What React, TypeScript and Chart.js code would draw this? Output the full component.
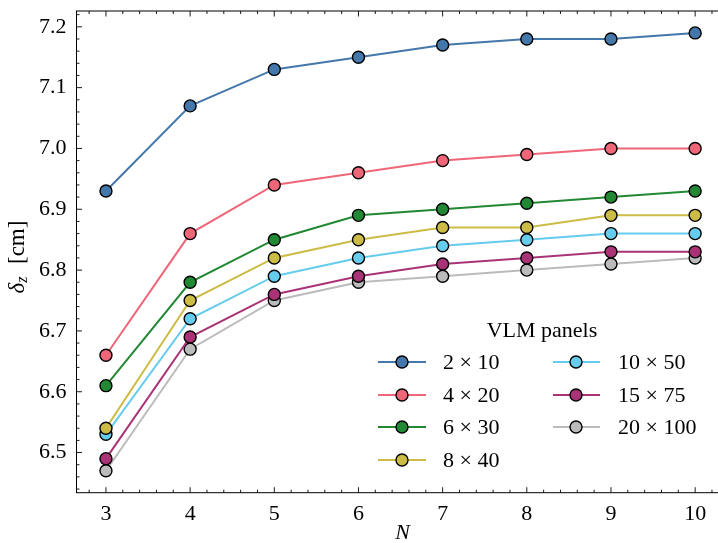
import React, { useEffect, useRef } from "react";
import { Chart, registerables } from "chart.js";

Chart.register(...registerables);

const nValues = [3, 4, 5, 6, 7, 8, 9, 10];
const xTicks = [3, 4, 5, 6, 7, 8, 9, 10];
const yTicks = [6.5, 6.6, 6.7, 6.8, 6.9, 7.0, 7.1, 7.2];

const seriesLabels = ["2 × 10", "4 × 20", "6 × 30", "8 × 40", "10 × 50", "15 × 75", "20 × 100"];
const s2x10 = [6.93, 7.07, 7.13, 7.15, 7.17, 7.18, 7.18, 7.19];
const s4x20 = [6.66, 6.86, 6.94, 6.96, 6.98, 6.99, 7.0, 7.0];
const s6x30 = [6.61, 6.78, 6.85, 6.89, 6.9, 6.91, 6.92, 6.93];
const s8x40 = [6.54, 6.75, 6.82, 6.85, 6.87, 6.87, 6.89, 6.89];
const s10x50 = [6.53, 6.72, 6.79, 6.82, 6.84, 6.85, 6.86, 6.86];
const s15x75 = [6.49, 6.69, 6.76, 6.79, 6.81, 6.82, 6.83, 6.83];
const s20x100 = [6.47, 6.67, 6.75, 6.78, 6.79, 6.8, 6.81, 6.82];
const seriesValues = [s2x10, s4x20, s6x30, s8x40, s10x50, s15x75, s20x100];
const seriesColors = ["#4477AA", "#EE6677", "#228833", "#CCBB44", "#66CCEE", "#AA3377", "#BBBBBB"];

const FONT = "'Liberation Serif', 'DejaVu Serif', serif";
const FS = 22;

const decorPlugin = {
  id: "decor",
  afterDraw(chart: any) {
    const ctx = chart.ctx;
    const ca = chart.chartArea;
    const xs = chart.scales.x;
    const ys = chart.scales.y;
    ctx.save();
    // frame
    ctx.strokeStyle = "#000";
    ctx.lineWidth = 1;
    ctx.strokeRect(ca.left, ca.top, ca.right - ca.left, ca.bottom - ca.top);
    // ticks inward
    const major = 5.5, minor = 3;
    ctx.lineWidth = 0.9;
    ctx.beginPath();
    for (let v = 2.6; v <= 10.4 + 1e-9; v += 0.2) {
      const val = Math.round(v * 10) / 10;
      if (val < xs.min - 1e-9 || val > xs.max + 1e-9) continue;
      const isMajor = Math.abs(val - Math.round(val)) < 1e-6;
      const L = isMajor ? major : minor;
      const px = xs.getPixelForValue(val);
      ctx.moveTo(px, ca.bottom);
      ctx.lineTo(px, ca.bottom - L);
      ctx.moveTo(px, ca.top);
      ctx.lineTo(px, ca.top + L);
    }
    for (let i = 640; i <= 726; i += 2) {
      const val = i / 100;
      if (val < ys.min - 1e-9 || val > ys.max + 1e-9) continue;
      const isMajor = i % 10 === 0;
      const L = isMajor ? major : minor;
      const py = ys.getPixelForValue(val);
      ctx.moveTo(ca.left, py);
      ctx.lineTo(ca.left + L, py);
      ctx.moveTo(ca.right, py);
      ctx.lineTo(ca.right - L, py);
    }
    ctx.stroke();

    // y title: δ_z [cm]
    ctx.fillStyle = "#000";
    ctx.save();
    ctx.translate(18, 257);
    ctx.rotate(-Math.PI / 2);
    ctx.textBaseline = "middle";
    ctx.textAlign = "left";
    const fMain = `italic ${FS + 1}px ${FONT}`;
    const fSub = `italic ${Math.round(FS * 0.72)}px ${FONT}`;
    const fUp = `${FS + 1}px ${FONT}`;
    ctx.font = fMain;
    const w1 = ctx.measureText("δ").width;
    ctx.font = fSub;
    const w2 = ctx.measureText("z").width;
    ctx.font = fUp;
    const w3 = ctx.measureText("  [cm]").width;
    const total = w1 + w2 + 1 + w3;
    let x0 = -total / 2;
    ctx.font = fMain;
    ctx.fillText("δ", x0, 0);
    x0 += w1;
    ctx.font = fSub;
    ctx.fillText("z", x0, 5);
    x0 += w2 + 1;
    ctx.font = fUp;
    ctx.fillText("  [cm]", x0, 0);
    ctx.restore();

    // x title
    ctx.font = `italic ${FS}px ${FONT}`;
    ctx.textAlign = "center";
    ctx.textBaseline = "middle";
    ctx.fillText("N", (ca.left + ca.right) / 2 + 2, 533);

    // legend
    ctx.font = `${FS}px ${FONT}`;
    ctx.textAlign = "center";
    ctx.fillText("VLM panels", 542, 331);
    const cols = [
      { lx0: 378, lx1: 426, mx: 402, tx: 443 },
      { lx0: 553, lx1: 600, mx: 576, tx: 618 },
    ];
    const rows = [362, 395, 427, 460];
    chart.data.datasets.forEach((ds: any, i: number) => {
      const c = cols[i < 4 ? 0 : 1];
      const y = rows[i < 4 ? i : i - 4];
      ctx.strokeStyle = ds.borderColor;
      ctx.lineWidth = 2;
      ctx.beginPath();
      ctx.moveTo(c.lx0, y);
      ctx.lineTo(c.lx1, y);
      ctx.stroke();
      ctx.beginPath();
      ctx.arc(c.mx, y, 6, 0, Math.PI * 2);
      ctx.fillStyle = ds.pointBackgroundColor;
      ctx.fill();
      ctx.lineWidth = 1.4;
      ctx.strokeStyle = "#000";
      ctx.stroke();
      ctx.fillStyle = "#000";
      ctx.textAlign = "left";
      ctx.textBaseline = "middle";
      ctx.fillText(ds.label, c.tx, y + 1);
    });
    ctx.restore();
  },
};

export default function App() {
  const ref = useRef<HTMLCanvasElement>(null);
  useEffect(() => {
    const canvas = ref.current!;
    const chart = new Chart(canvas, {
      type: "line",
      data: {
        datasets: seriesValues.map((vals, i) => ({
          label: seriesLabels[i],
          data: vals.map((v, j) => ({ x: nValues[j], y: v })),
          borderColor: seriesColors[i],
          backgroundColor: seriesColors[i],
          pointBackgroundColor: seriesColors[i],
          pointBorderColor: "#000",
          pointBorderWidth: 1.4,
          pointRadius: 6,
          borderWidth: 2,
          tension: 0,
          fill: false,
        })),
      },
      options: {
        animation: false,
        responsive: false,
        devicePixelRatio: 1,
        layout: { padding: { top: 11, right: 5.5, left: 0, bottom: 0 } },
        plugins: { legend: { display: false }, tooltip: { enabled: false } },
        scales: {
          x: {
            type: "linear",
            min: 2.65,
            max: 10.35,
            grid: { display: false, drawTicks: false },
            border: { display: false },
            ticks: {
              color: "#000",
              font: { family: FONT, size: FS },
              padding: 8,
              maxRotation: 0,
              callback: (v: any) => String(v),
            },
            afterBuildTicks: (s: any) => {
              s.ticks = xTicks.map((v) => ({ value: v }));
            },
            afterFit: (s: any) => {
              s.height = 50.3;
              s.paddingLeft = 0;
              s.paddingRight = 0;
            },
          },
          y: {
            type: "linear",
            min: 6.434,
            max: 7.226,
            grid: { display: false, drawTicks: false },
            border: { display: false },
            ticks: {
              color: "#000",
              font: { family: FONT, size: FS },
              padding: 10,
              callback: (v: any) => Number(v).toFixed(1),
            },
            afterBuildTicks: (s: any) => {
              s.ticks = yTicks.map((v) => ({ value: v }));
            },
            afterFit: (s: any) => {
              s.width = 76.5;
              s.paddingTop = 0;
              s.paddingBottom = 0;
            },
          },
        },
      },
      plugins: [decorPlugin],
    } as any);
    return () => chart.destroy();
  }, []);
  return (
    <div
      style={{
        position: "fixed",
        left: 0,
        top: 0,
        width: 718,
        height: 543,
        overflow: "hidden",
        background: "#fff",
      }}
    >
      <canvas ref={ref} width={732} height={543} style={{ width: 732, height: 543, display: "block" }} />
    </div>
  );
}
